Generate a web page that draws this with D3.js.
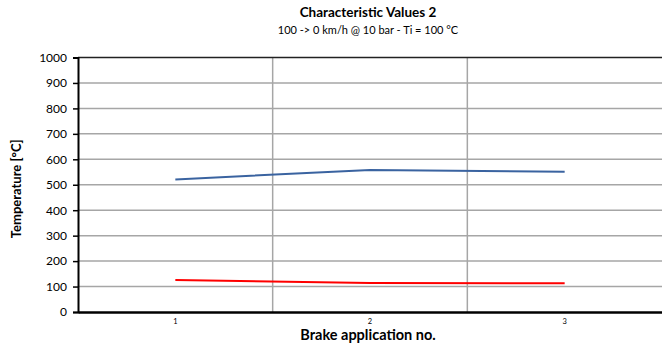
<!DOCTYPE html>
<html><head><meta charset="utf-8">
<script src="https://cdn.jsdelivr.net/npm/d3@7"></script>
<style>body{margin:0;background:#fff}svg{display:block;font-family:Lato,"Open Sans",sans-serif}</style>
</head><body><svg id="c" width="662" height="347"></svg>
<script>
const categories = ["1", "2", "3"];
const blueSeries = [521, 558, 551];
const redSeries = [126, 114, 113];
const yTicks = [0, 100, 200, 300, 400, 500, 600, 700, 800, 900, 1000];

const svg = d3.select("#c");
const m = {l: 78, r: 662, t: 57.5, b: 312};
const x = d3.scaleBand().domain(categories).range([m.l, m.r]);
const y = d3.scaleLinear().domain([0, 1000]).range([m.b, m.t]);

// horizontal gridlines
svg.append("g").selectAll("line").data(yTicks.filter(d => d > 0 && d < 1000)).join("line")
  .attr("x1", m.l).attr("x2", m.r).attr("y1", d => y(d)).attr("y2", d => y(d))
  .attr("stroke", "#a6a6a6").attr("stroke-width", 1.5);
// vertical gridlines between categories
svg.append("g").selectAll("line").data(categories.slice(1)).join("line")
  .attr("x1", d => x(d)).attr("x2", d => x(d)).attr("y1", m.t).attr("y2", m.b)
  .attr("stroke", "#a6a6a6").attr("stroke-width", 1.5);
// top line
svg.append("line").attr("x1", m.l).attr("x2", m.r).attr("y1", y(1000)).attr("y2", y(1000))
  .attr("stroke", "#222").attr("stroke-width", 1.5);

// y axis
const ya = svg.append("g").attr("transform", `translate(${m.l},0)`)
  .call(d3.axisLeft(y).tickValues(yTicks).tickSize(5).tickPadding(6).tickFormat(d3.format("d")));
ya.select(".domain").attr("stroke", "#000").attr("stroke-width", 2);
ya.selectAll(".tick line").attr("stroke", "#000").attr("stroke-width", 1.5);
ya.selectAll("text").attr("font-size", 12).attr("fill", "#000").attr("font-family", "Lato");

// x axis
const xa = svg.append("g").attr("transform", `translate(0,${m.b})`)
  .call(d3.axisBottom(x).tickSize(0).tickPadding(7));
xa.select(".domain").attr("stroke", "#000").attr("stroke-width", 2.5);
xa.selectAll("text").attr("font-size", 7.5).attr("fill", "#000").attr("font-family", "Lato");

const line = d3.line().x((d, i) => x(categories[i]) + x.bandwidth() / 2).y(d => y(d));
svg.append("path").datum(blueSeries).attr("d", line).attr("fill", "none")
  .attr("stroke", "#3a63a0").attr("stroke-width", 2);
svg.append("path").datum(redSeries).attr("d", line).attr("fill", "none")
  .attr("stroke", "#ff0000").attr("stroke-width", 2);

// titles
svg.append("text").attr("x", 368).attr("y", 17).attr("text-anchor", "middle")
  .attr("font-size", 13.5).attr("font-weight", "bold").text("Characteristic Values 2");
svg.append("text").attr("x", 368).attr("y", 34).attr("text-anchor", "middle")
  .attr("font-size", 11).text("100 -> 0 km/h @ 10 bar - Ti = 100 °C");
svg.append("text").attr("x", 368).attr("y", 340).attr("text-anchor", "middle")
  .attr("font-size", 14.5).attr("font-weight", "bold").text("Brake application no.");
svg.append("text").attr("transform", `translate(21,${(m.t + m.b) / 2 + 4}) rotate(-90)`)
  .attr("text-anchor", "middle").attr("font-size", 13).attr("font-weight", "bold").text("Temperature [°C]");
</script></body></html>
